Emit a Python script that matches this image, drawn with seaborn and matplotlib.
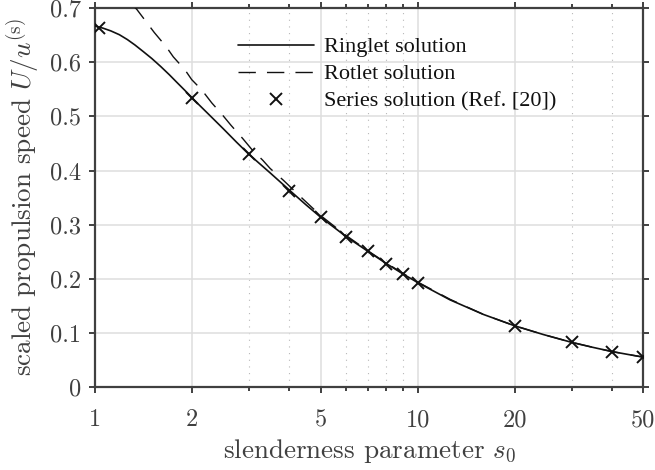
import numpy as np
import pandas as pd
import seaborn as sns
import matplotlib
matplotlib.use("Agg")
import matplotlib.pyplot as plt
from matplotlib.ticker import FixedLocator, FixedFormatter, NullFormatter

# Ringlet solution (solid curve)
ringlet_s0 = [1.0, 1.06, 1.12, 1.19, 1.26, 1.33, 1.41, 1.5, 1.6, 1.7, 1.8, 1.9, 2.0,
              2.25, 2.5, 2.75, 3.0, 3.5, 4.0, 4.5, 5.0,
              6.0, 7.0, 8.0, 9.0, 10.0, 12.6, 16.0, 20.0, 24.5, 30.0, 35.0, 40.0, 45.0, 50.0]
ringlet_U = [0.667, 0.663, 0.658, 0.651, 0.642, 0.632, 0.620, 0.607, 0.592, 0.577, 0.562,
             0.548, 0.534, 0.504, 0.477, 0.452, 0.430, 0.395, 0.364, 0.337, 0.314,
             0.278, 0.251, 0.228, 0.209, 0.193, 0.161, 0.134, 0.113, 0.097, 0.0825, 0.0731,
             0.0655, 0.0600, 0.0552]

# Rotlet solution (dashed curve)
rotlet_s0 = [1.31, 1.347, 1.453, 1.527, 1.661, 1.749, 1.901, 1.994, 2.142, 2.301, 2.489,
             2.636, 2.871, 3.062, 3.311, 3.488, 3.836, 4.4, 5.0, 6.0, 7.0, 8.0, 9.0, 10.0,
             12.6, 16.0, 20.0, 24.5, 30.0, 35.0, 40.0, 45.0, 50.0]
rotlet_U = [0.705, 0.698, 0.672, 0.655, 0.629, 0.610, 0.586, 0.568, 0.549, 0.525, 0.502,
            0.484, 0.459, 0.439, 0.419, 0.404, 0.382, 0.348, 0.317, 0.280, 0.252, 0.229, 0.210,
            0.194, 0.162, 0.134, 0.113, 0.097, 0.0826, 0.0731, 0.0655, 0.0600, 0.0552]

# Series solution from Ref. [20] (crosses)
series_s0 = [1.03, 2, 3, 4, 5, 6, 7, 8, 9, 10, 20, 30, 40, 50]
series_U = [0.664, 0.534, 0.430, 0.363, 0.314, 0.277, 0.252, 0.228, 0.209, 0.193,
            0.113, 0.0825, 0.065, 0.055]

x_major = [1, 2, 5, 10, 20, 50]
x_minor = [3, 4, 6, 7, 8, 9, 30, 40]
y_ticks = [0, 0.1, 0.2, 0.3, 0.4, 0.5, 0.6, 0.7]
y_labels = ["0", "0.1", "0.2", "0.3", "0.4", "0.5", "0.6", "0.7"]

sns.set_theme(style="ticks")
plt.rcParams["font.family"] = ["cmr10", "DejaVu Serif"]
plt.rcParams["mathtext.fontset"] = "cm"
plt.rcParams["axes.formatter.use_mathtext"] = True

ink = "#404040"
fig = plt.figure(figsize=(6.55, 4.7), dpi=100)
ax = fig.add_axes([0.145, 0.1766, 0.837, 0.806])

ringlet = pd.DataFrame({"s0": ringlet_s0, "U": ringlet_U})
rotlet = pd.DataFrame({"s0": rotlet_s0, "U": rotlet_U})
series = pd.DataFrame({"s0": series_s0, "U": series_U})

sns.lineplot(data=ringlet, x="s0", y="U", ax=ax, color="#111111", lw=1.2,
             label="Ringlet solution", zorder=3)
sns.lineplot(data=rotlet, x="s0", y="U", ax=ax, color="#111111", lw=1.0,
             label="Rotlet solution", zorder=3)
ax.lines[-1].set_dashes([12.5, 8])
ax.plot(series["s0"], series["U"], ls="none", marker="x", ms=8.5, mew=1.4,
        color="#111111", label="Series solution (Ref. [20])", zorder=4)

ax.set_xscale("log")
ax.set_xlim(1, 50)
ax.set_ylim(0, 0.7)
ax.xaxis.set_major_locator(FixedLocator(x_major))
ax.xaxis.set_major_formatter(FixedFormatter([str(v) for v in x_major]))
ax.xaxis.set_minor_locator(FixedLocator(x_minor))
ax.xaxis.set_minor_formatter(NullFormatter())
ax.yaxis.set_major_locator(FixedLocator(y_ticks))
ax.yaxis.set_major_formatter(FixedFormatter(y_labels))

ax.grid(True, which="major", color="#dedede", lw=1.1, ls="-", zorder=0)
ax.grid(True, which="minor", axis="x", color="#b8b8b8", lw=0.8, ls=(0, (1, 5)), zorder=0)
ax.set_axisbelow(True)

for sp in ax.spines.values():
    sp.set_visible(True)
    sp.set_color(ink)
    sp.set_linewidth(1.6)

ax.tick_params(which="both", direction="out", top=True, right=True,
               color=ink, labelcolor=ink, labelsize=17.5, width=1.4)
ax.tick_params(which="major", length=4, pad=6)
ax.tick_params(which="minor", length=3)
ax.tick_params(axis="x", which="major", pad=12)

ax.set_xlabel(r"slenderness parameter $s_0$", fontsize=19.5, color=ink, labelpad=4)
ax.set_ylabel(r"scaled propulsion speed $U/u^{(\mathrm{s})}$", fontsize=19.5, color=ink,
              labelpad=6)

leg = ax.legend(loc="upper left", bbox_to_anchor=(0.245, 0.948), frameon=False,
                prop={"family": "Liberation Serif", "size": 16},
                handlelength=3.4, handletextpad=0.45, labelspacing=0.29,
                borderaxespad=0.0, labelcolor="#111111")

fig.savefig("out.png", dpi=100)
